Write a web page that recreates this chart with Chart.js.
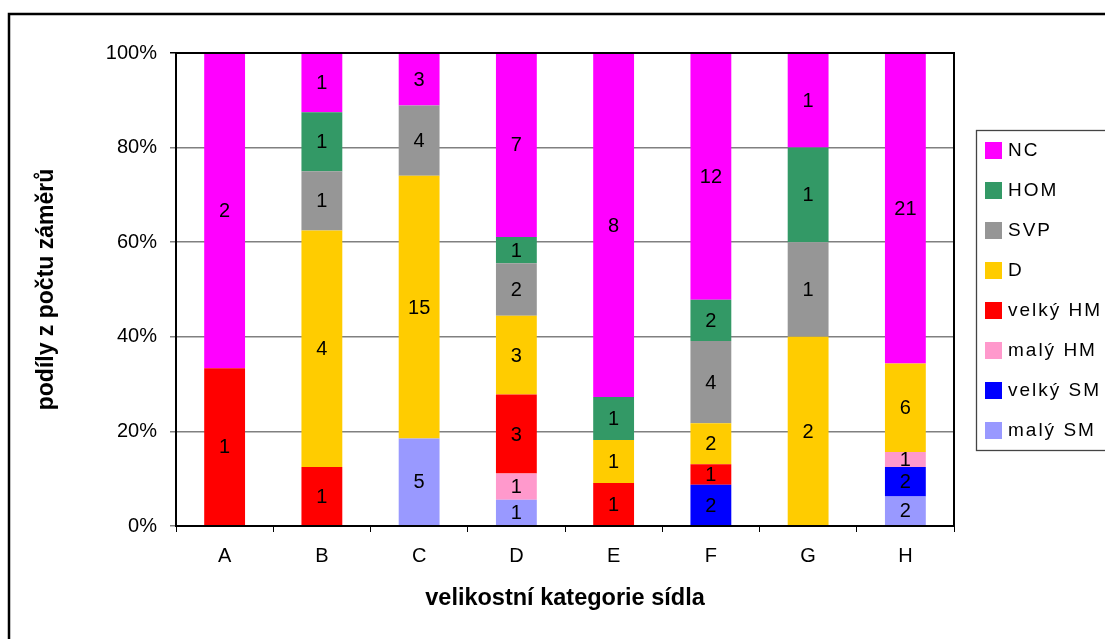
<!DOCTYPE html>
<html>
<head>
<meta charset="utf-8">
<script src="https://cdn.jsdelivr.net/npm/chart.js@4/dist/chart.umd.min.js"></script>
<style>
  html, body { margin: 0; padding: 0; background: #fff; }
  canvas { display: block; }
</style>
</head>
<body>
<canvas id="myChart" width="1105" height="639"></canvas>
<script>
// categories (velikostní kategorie sídla)
const categories = ["A", "B", "C", "D", "E", "F", "G", "H"];

// counts of záměry per category, bottom of the stack first
const malySM = [0, 0, 5, 1, 0, 0, 0, 2];
const velkySM = [0, 0, 0, 0, 0, 2, 0, 2];
const malyHM = [0, 0, 0, 1, 0, 0, 0, 1];
const velkyHM = [1, 1, 0, 3, 1, 1, 0, 0];
const dValues = [0, 4, 15, 3, 1, 2, 2, 6];
const svpValues = [0, 1, 4, 2, 0, 4, 1, 0];
const homValues = [0, 1, 0, 1, 1, 2, 1, 0];
const ncValues = [2, 1, 3, 7, 8, 12, 1, 21];

const seriesNames = ["malý SM", "velký SM", "malý HM", "velký HM", "D", "SVP", "HOM", "NC"];
const seriesCounts = [malySM, velkySM, malyHM, velkyHM, dValues, svpValues, homValues, ncValues];
const seriesColors = ["#9999FF", "#0000FF", "#FF99CC", "#FF0000", "#FFCC00", "#969696", "#339966", "#FF00FF"];

const yTicks = [0, 20, 40, 60, 80, 100];

const FONT = "'Liberation Sans', Arial, sans-serif";

// totals per category -> percentage shares
const totals = categories.map((c, i) => seriesCounts.reduce((s, arr) => s + arr[i], 0));

const datasets = seriesNames.map((name, k) => ({
  label: name,
  counts: seriesCounts[k],
  data: seriesCounts[k].map((v, i) => (v ? (v / totals[i]) * 100 : null)),
  backgroundColor: seriesColors[k],
  borderWidth: 0,
  barPercentage: 0.42,
  categoryPercentage: 1,
}));

const framePlugin = {
  id: "frame",
  beforeDraw(chart) {
    const ctx = chart.ctx;
    ctx.save();
    ctx.fillStyle = "#fff";
    ctx.fillRect(0, 0, chart.width, chart.height);
    // outer chart border (only top and left visible)
    ctx.strokeStyle = "#000";
    ctx.lineWidth = 2.5;
    ctx.beginPath();
    ctx.moveTo(9, chart.height + 5);
    ctx.lineTo(9, 14);
    ctx.lineTo(chart.width + 5, 14);
    ctx.stroke();
    ctx.restore();
  },
  afterDatasetsDraw(chart) {
    const ctx = chart.ctx;
    const area = chart.chartArea;
    ctx.save();
    // segment value labels
    ctx.font = "20px " + FONT;
    ctx.fillStyle = "#000";
    ctx.textAlign = "center";
    ctx.textBaseline = "middle";
    chart.data.datasets.forEach((ds, k) => {
      const meta = chart.getDatasetMeta(k);
      meta.data.forEach((bar, i) => {
        const v = ds.counts[i];
        if (!v) return;
        ctx.fillText(String(v), bar.x, (bar.y + bar.base) / 2 + 1);
      });
    });
    // plot frame
    ctx.strokeStyle = "#000";
    ctx.lineWidth = 2;
    ctx.strokeRect(area.left, area.top, area.right - area.left, area.bottom - area.top);

    // legend
    const lx = 976, ly = 130, lw = 140, lh = 320;
    ctx.strokeStyle = "#444";
    ctx.lineWidth = 1.3;
    ctx.strokeRect(lx + 0.5, ly + 0.5, lw, lh);
    ctx.textAlign = "left";
    ctx.textBaseline = "middle";
    ctx.font = "19px " + FONT;
    ctx.letterSpacing = "2px";
    const items = chart.data.datasets.slice().reverse();
    items.forEach((ds, j) => {
      const cy = 150 + j * 40;
      ctx.fillStyle = ds.backgroundColor;
      ctx.fillRect(985, cy - 8, 17, 17);
      ctx.fillStyle = "#000";
      ctx.fillText(ds.label, 1008, cy + 1);
    });
    ctx.restore();
  },
};

new Chart(document.getElementById("myChart"), {
  type: "bar",
  data: { labels: categories, datasets },
  options: {
    responsive: false,
    animation: false,
    layout: { padding: { left: 0, top: 53, right: 151, bottom: 0 } },
    plugins: { legend: { display: false }, tooltip: { enabled: false } },
    scales: {
      x: {
        stacked: true,
        grid: { drawOnChartArea: false, tickLength: 6, color: "#000" },
        border: { color: "#000", width: 2 },
        ticks: { color: "#000", font: { family: FONT, size: 20 }, padding: 12 },
        title: {
          display: true,
          text: "velikostní kategorie sídla",
          color: "#000",
          font: { family: FONT, size: 23.5, weight: "bold" },
          padding: { top: 0, bottom: 26 },
        },
        afterFit(scale) { scale.height = 113; },
      },
      y: {
        stacked: true,
        min: 0,
        max: 100,
        afterBuildTicks(scale) { scale.ticks = yTicks.map((v) => ({ value: v })); },
        grid: {
          color: (c) => (c.tick && c.tick.value === 100 ? "#000" : "#808080"),
          lineWidth: 1.5,
          tickLength: 6,
        },
        border: { color: "#000", width: 2 },
        ticks: {
          color: "#000",
          font: { family: FONT, size: 20 },
          padding: 13,
          callback: (v) => v + "%",
        },
        title: {
          display: true,
          text: "podíly z počtu záměrů",
          color: "#000",
          font: { family: FONT, size: 23, weight: "bold" },
          padding: { top: 33, bottom: 0 },
        },
        afterFit(scale) { scale.width = 176; },
      },
    },
  },
  plugins: [framePlugin],
});
</script>
</body>
</html>
